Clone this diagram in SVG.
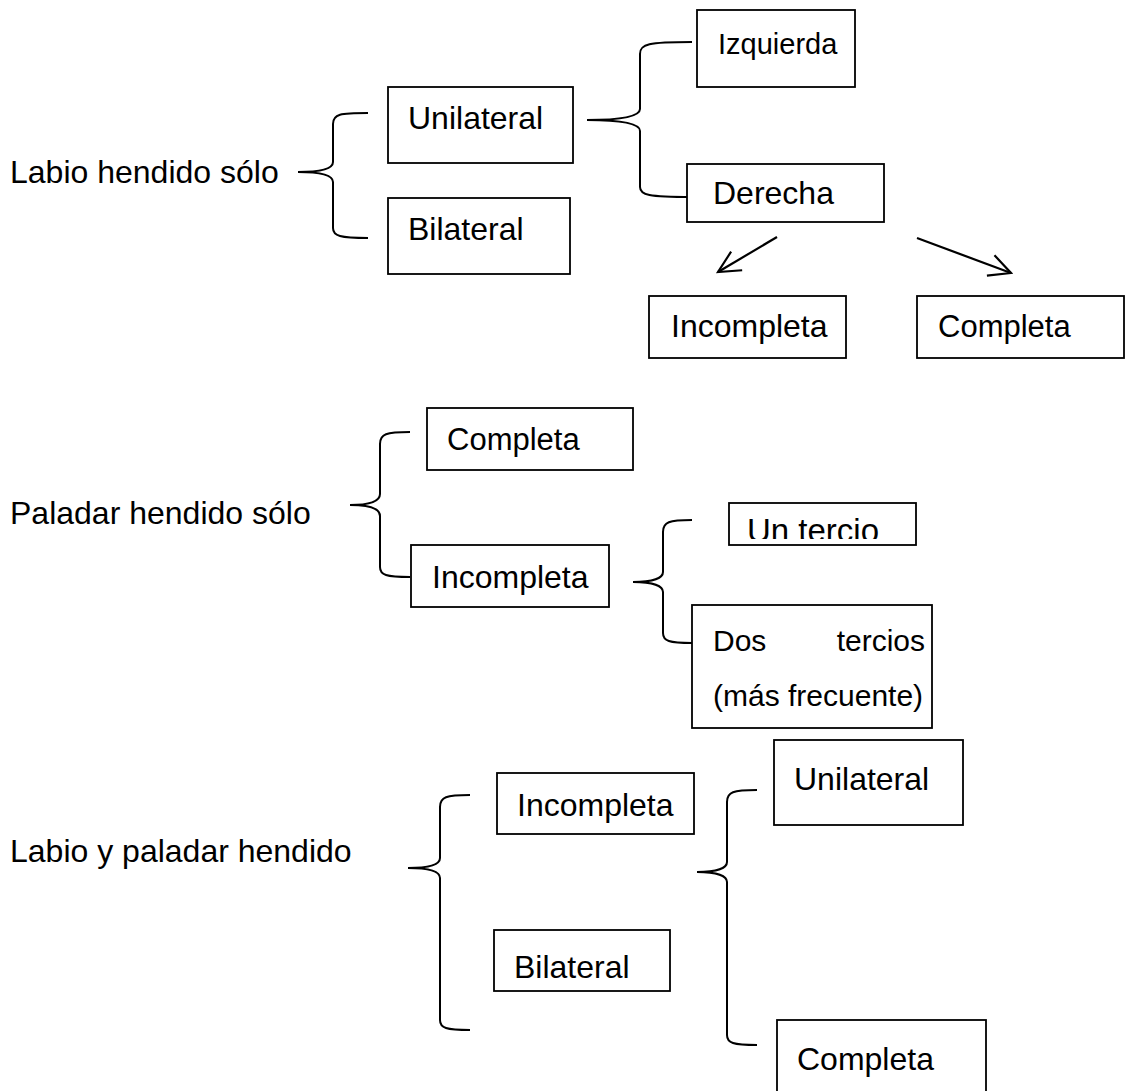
<svg xmlns="http://www.w3.org/2000/svg" width="1131" height="1091" viewBox="0 0 1131 1091">
<style>
text{font-family:"Liberation Sans",Arial,sans-serif;font-size:32px;fill:#000}
text.s30{font-size:30px}
text.s29{font-size:29px}
text.s31{font-size:31px}
text.s33{font-size:33px}
.box{fill:#fff;stroke:#000;stroke-width:1.8}
.brace{fill:none;stroke:#000;stroke-width:2}
.arr{fill:none;stroke:#000;stroke-width:2.2}
</style>
<defs>
<marker id="ah" viewBox="0 0 12 12" refX="11" refY="6" markerWidth="26" markerHeight="26" markerUnits="userSpaceOnUse" orient="auto">
<path d="M1,1 L11,6 L1,11" fill="none" stroke="#000" stroke-width="1"/>
</marker>
<clipPath id="clipUn"><rect x="729" y="503" width="187" height="36"/></clipPath>
</defs>
<rect width="1131" height="1091" fill="#fff"/>

<g id="connectors">
<path class="brace" d="M368,113 C340,113 333,114 333,124 L333,162 C333,169 320,172 298,172 C320,172 333,175 333,182 L333,228 C333,236 340,238 368,238"/>
<path class="brace" d="M692,42 C648,42 640,44 640,54 L640,109 C640,116 625,120 587,120 C625,120 640,124 640,131 L640,187 C640,195 648,197 692,197"/>
<path class="brace" d="M410,432 C386,432 380,434 380,444 L380,494 C380,501 370,505 350,505 C370,505 380,509 380,516 L380,567 C380,575 386,577 410,577"/>
<path class="brace" d="M692,520 C669,520 663,522 663,532 L663,572 C663,578 653,582 633,582 C653,582 663,586 663,592 L663,633 C663,641 669,643 692,643"/>
<path class="brace" d="M470,795 C446,795 440,797 440,807 L440,858 C440,864 430,868 408,868 C430,868 440,872 440,878 L440,1020 C440,1028 446,1030 470,1030"/>
<path class="brace" d="M757,790 C733,790 727,792 727,802 L727,862 C727,868 717,872 697,872 C717,872 727,876 727,882 L727,1035 C727,1043 733,1045 757,1045"/>
<line class="arr" x1="777" y1="237" x2="718" y2="272" marker-end="url(#ah)"/>
<line class="arr" x1="917" y1="238" x2="1011" y2="273" marker-end="url(#ah)"/>
</g>

<g id="label-labio"><text x="10" y="183">Labio hendido sólo</text></g>
<g id="n-unilateral1"><rect class="box" x="388" y="87" width="185" height="76"/><text x="408" y="129">Unilateral</text></g>
<g id="n-bilateral1"><rect class="box" x="388" y="198" width="182" height="76"/><text x="408" y="240">Bilateral</text></g>
<g id="n-izquierda"><rect class="box" x="697" y="10" width="158" height="77"/><text class="s29" x="718" y="54">Izquierda</text></g>
<g id="n-derecha"><rect class="box" x="687" y="164" width="197" height="58"/><text x="713" y="204">Derecha</text></g>
<g id="n-incompleta1"><rect class="box" x="649" y="296" width="197" height="62"/><text x="671" y="337">Incompleta</text></g>
<g id="n-completa1"><rect class="box" x="917" y="296" width="207" height="62"/><text class="s31" x="938" y="337">Completa</text></g>

<g id="label-paladar"><text x="10" y="524">Paladar hendido sólo</text></g>
<g id="n-completa2"><rect class="box" x="427" y="408" width="206" height="62"/><text class="s31" x="447" y="450">Completa</text></g>
<g id="n-incompleta2"><rect class="box" x="411" y="545" width="198" height="62"/><text x="432" y="588">Incompleta</text></g>
<g id="n-untercio"><rect class="box" x="729" y="503" width="187" height="42"/><text class="s33" x="747" y="542" clip-path="url(#clipUn)">Un tercio</text></g>
<g id="n-dostercios"><rect class="box" x="692" y="605" width="240" height="123"/><text class="s30" x="713" y="651">Dos</text><text class="s30" x="925" y="651" text-anchor="end">tercios</text><text class="s30" x="713" y="706">(más frecuente)</text></g>

<g id="label-labiopaladar"><text x="10" y="862">Labio y paladar hendido</text></g>
<g id="n-incompleta3"><rect class="box" x="497" y="773" width="197" height="61"/><text x="517" y="816">Incompleta</text></g>
<g id="n-bilateral3"><rect class="box" x="494" y="930" width="176" height="61"/><text x="514" y="978">Bilateral</text></g>
<g id="n-unilateral3"><rect class="box" x="774" y="740" width="189" height="85"/><text x="794" y="790">Unilateral</text></g>
<g id="n-completa3"><rect class="box" x="777" y="1020" width="209" height="90"/><text x="797" y="1070">Completa</text></g>
</svg>
